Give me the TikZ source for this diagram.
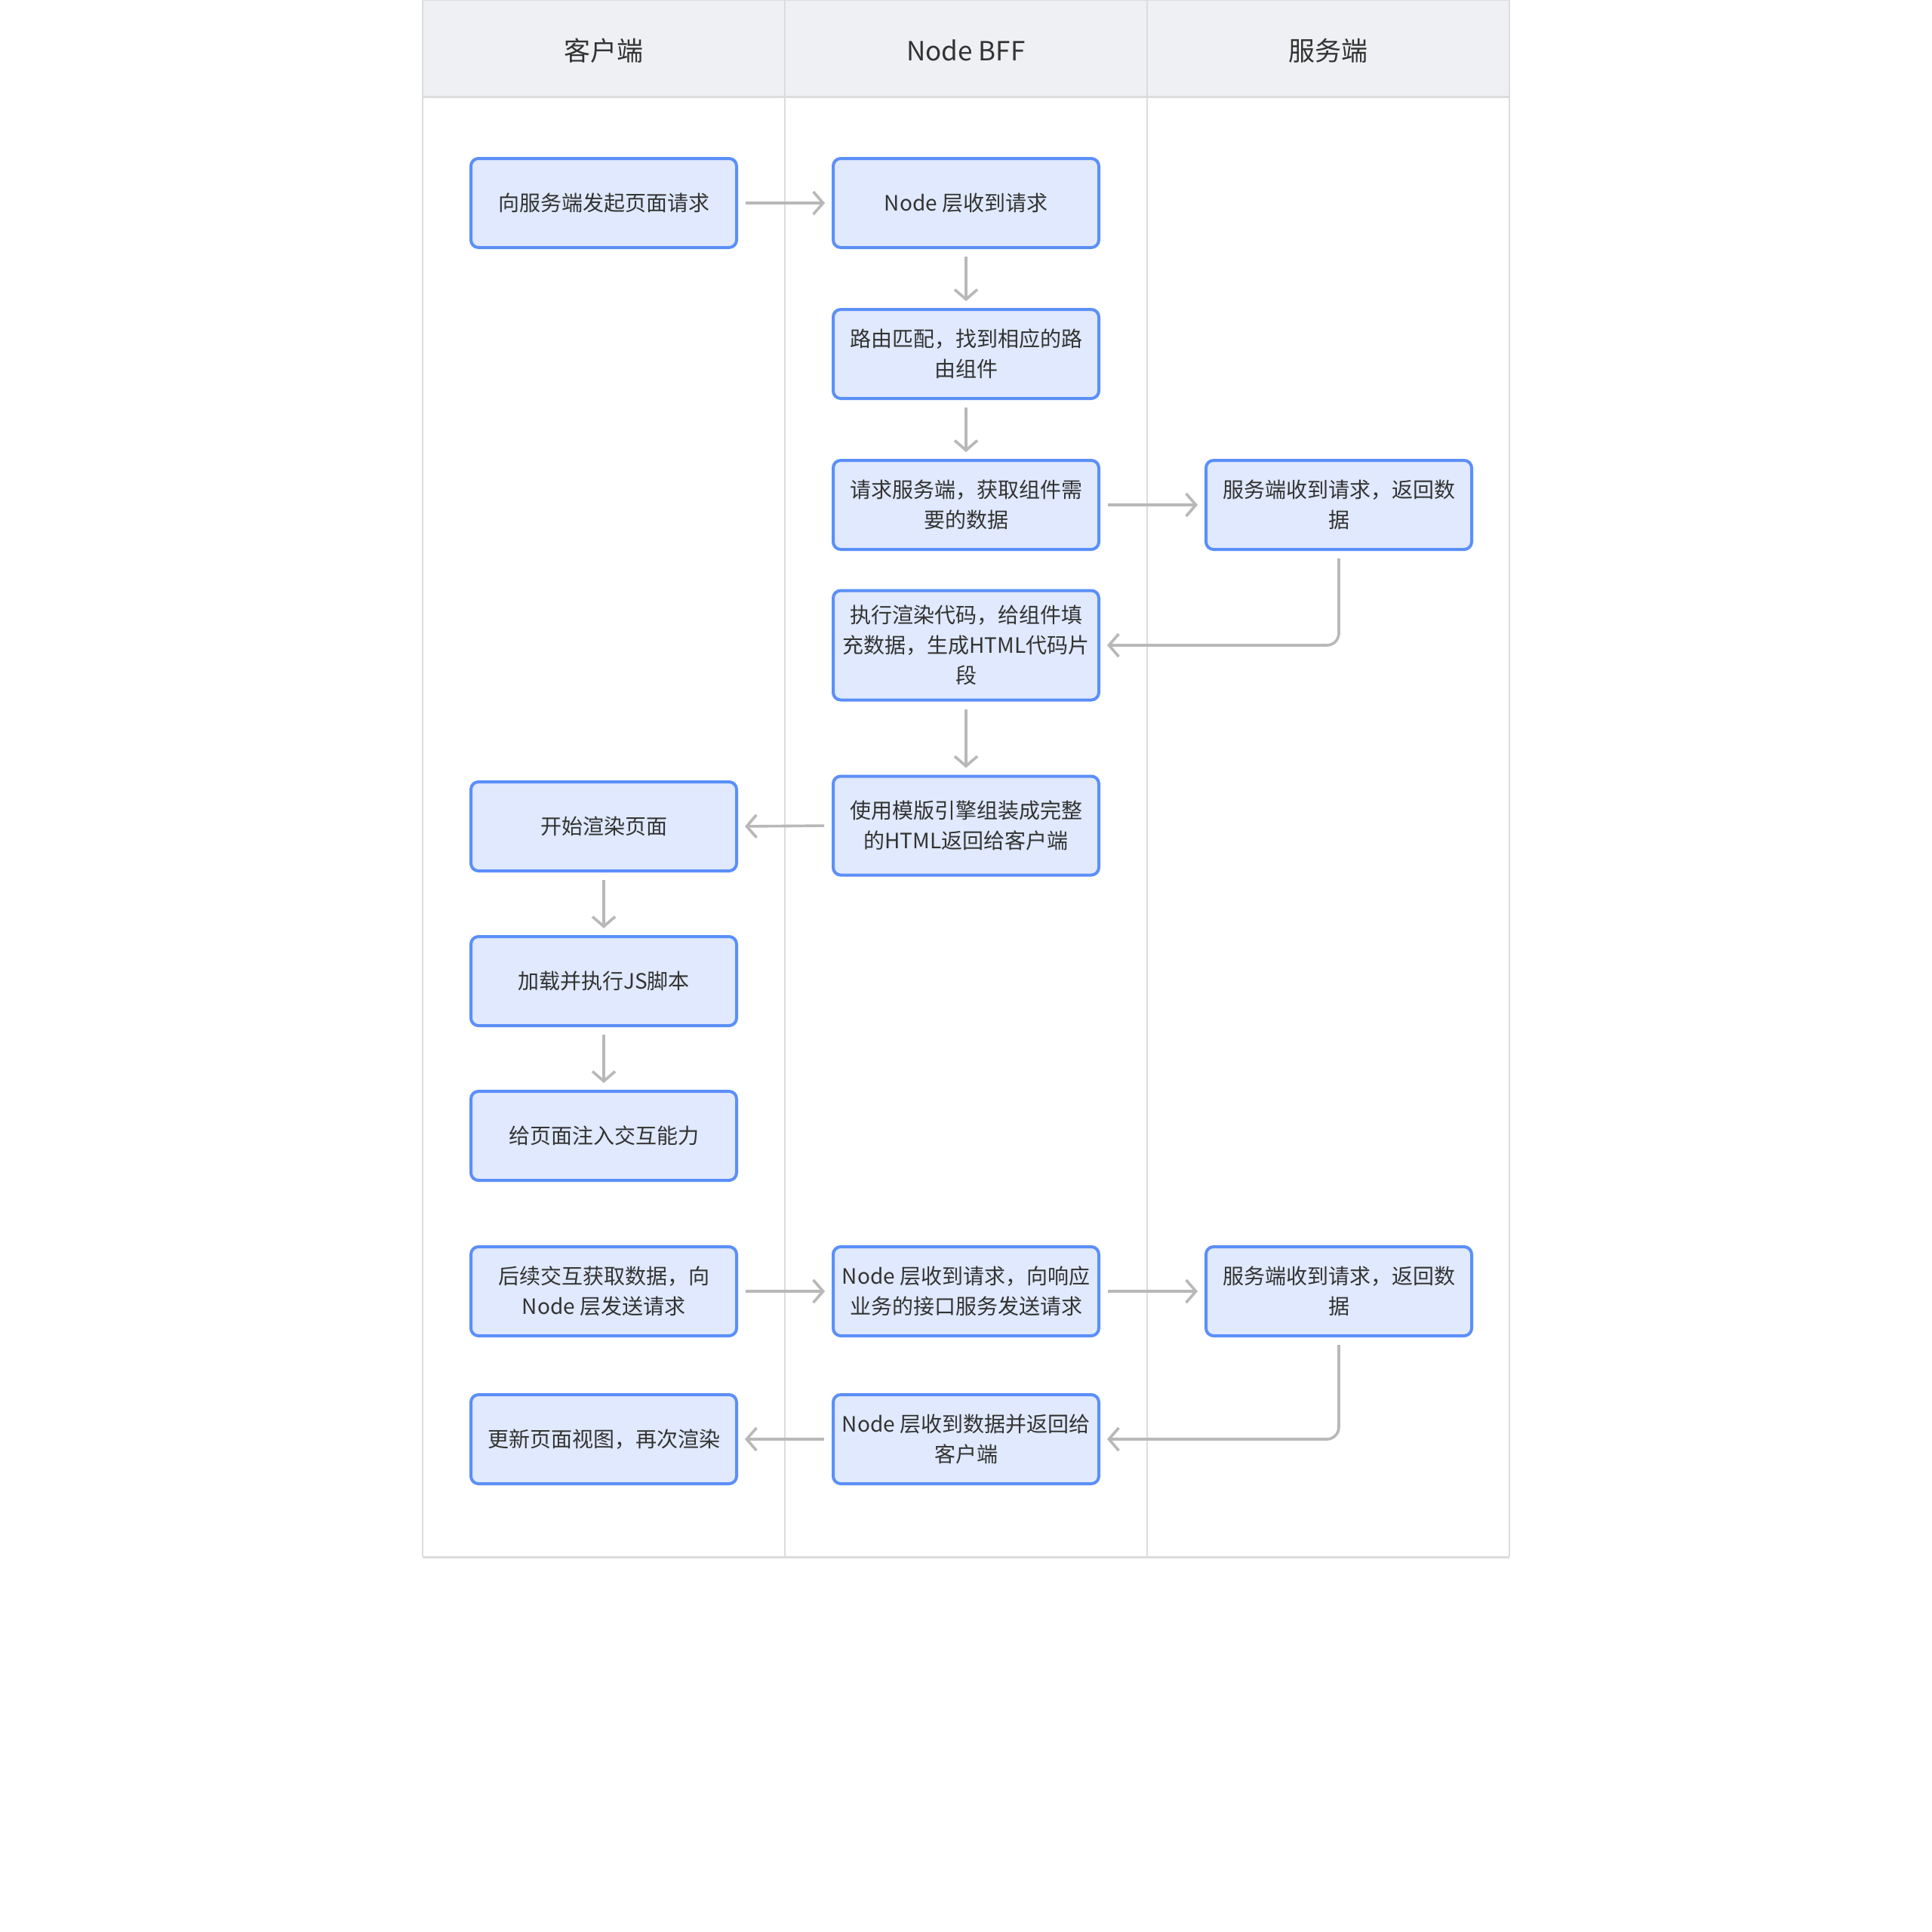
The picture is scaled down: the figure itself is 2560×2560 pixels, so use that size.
\documentclass[tikz,border=0pt]{standalone}
\usepackage{fontspec}
\setmainfont{Noto Sans CJK SC}
\usetikzlibrary{arrows.meta}
\definecolor{nodeblue}{HTML}{5B8FF9}
\definecolor{nodefill}{HTML}{E0E9FD}
\definecolor{conngray}{HTML}{B8B8B8}
\definecolor{framegray}{HTML}{DCDCDC}
\definecolor{headfill}{HTML}{EEF0F3}
\definecolor{txt}{HTML}{333333}
\tikzset{
  stepbox/.style={draw=nodeblue, fill=nodefill, line width=4pt, rounded corners=10pt,
    minimum width=352pt, minimum height=118pt, align=center, text=txt,
    font=\fontsize{28}{40}\selectfont, inner sep=0pt},
  conn/.style={draw=conngray, line width=3.6pt, -{Straight Barb[length=13pt,width=30pt,line width=3.6pt]},
    shorten <=10pt, shorten >=9pt, rounded corners=16pt},
  headtxt/.style={text=txt, font=\fontsize{35}{42}\selectfont},
  frameline/.style={draw=framegray, line width=2pt}
}
\begin{document}
\begin{tikzpicture}[x=1pt,y=-1pt]
\useasboundingbox (0,0) rectangle (2560,2560);
\fill[white] (0,0) rectangle (2560,2560);
% header and frame
\fill[headfill] (560,0) rectangle (2000,128);
\draw[frameline] (560,0) -- (2000,0);
\draw[frameline, line width=3pt] (560,128) -- (2000,128);
\draw[frameline, line width=3pt] (560,2063) -- (2000,2063);
\draw[frameline] (560,0) -- (560,2063);
\draw[frameline] (1040,0) -- (1040,2063);
\draw[frameline] (1520,0) -- (1520,2063);
\draw[frameline] (2000,0) -- (2000,2063);
\node[headtxt] (h1) at (800,67) {客户端};
\node[headtxt] (h2) at (1280,67) {Node BFF};
\node[headtxt] (h3) at (1760,67) {服务端};
% nodes
\node[stepbox] (a1) at (800,269) {向服务端发起页面请求};
\node[stepbox] (b1) at (1280,269) {Node 层收到请求};
\node[stepbox] (b2) at (1280,469) {路由匹配，找到相应的路\\由组件};
\node[stepbox] (b3) at (1280,669) {请求服务端，获取组件需\\要的数据};
\node[stepbox] (c1) at (1774,669) {服务端收到请求，返回数\\据};
\node[stepbox, minimum height=145pt] (b4) at (1280,855) {执行渲染代码，给组件填\\充数据，生成HTML代码片\\段};
\node[stepbox, minimum height=131pt] (b5) at (1280,1094) {使用模版引擎组装成完整\\的HTML返回给客户端};
\node[stepbox] (a2) at (800,1095) {开始渲染页面};
\node[stepbox] (a3) at (800,1300) {加载并执行JS脚本};
\node[stepbox] (a4) at (800,1505) {给页面注入交互能力};
\node[stepbox] (a5) at (800,1711) {后续交互获取数据，向\\Node 层发送请求};
\node[stepbox] (b6) at (1280,1711) {Node 层收到请求，向响应\\业务的接口服务发送请求};
\node[stepbox] (c2) at (1774,1711) {服务端收到请求，返回数\\据};
\node[stepbox] (a6) at (800,1907) {更新页面视图，再次渲染};
\node[stepbox] (b7) at (1280,1907) {Node 层收到数据并返回给\\客户端};
% connectors
\draw[conn] (a1.east) -- (b1.west);
\draw[conn] (b1.south) -- (b2.north);
\draw[conn] (b2.south) -- (b3.north);
\draw[conn] (b3.east) -- (c1.west);
\draw[conn] (c1.south) |- (b4.east);
\draw[conn] (b4.south) -- (b5.north);
\draw[conn] (b5.west) -- (a2.east);
\draw[conn] (a2.south) -- (a3.north);
\draw[conn] (a3.south) -- (a4.north);
\draw[conn] (a5.east) -- (b6.west);
\draw[conn] (b6.east) -- (c2.west);
\draw[conn] (c2.south) |- (b7.east);
\draw[conn] (b7.west) -- (a6.east);
\end{tikzpicture}
\end{document}
